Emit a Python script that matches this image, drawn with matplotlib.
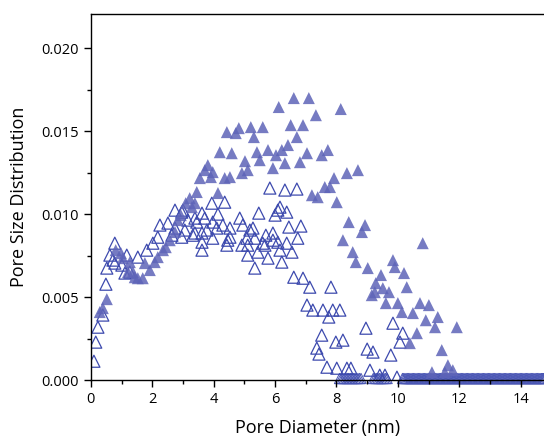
import numpy as np
import matplotlib
matplotlib.use("Agg")
import matplotlib.pyplot as plt
from matplotlib.ticker import MultipleLocator, FormatStrFormatter

plt.rcParams['font.family'] = ['Open Sans', 'DejaVu Sans']

# filled triangles: pore diameter (nm), PSD (x 1e-3)
d_fill = [0.29, 0.39, 0.52, 0.81, 0.98, 1.04, 1.27, 1.21, 1.37, 1.43, 1.53, 1.69, 1.76,
          1.92, 2.08, 2.18, 2.35, 2.44, 2.57, 2.74, 2.83, 2.93, 3.09, 3.22, 3.29, 3.39,
          3.45, 3.55, 3.71, 3.81, 3.91, 3.97, 4.14, 4.20, 4.36, 4.43, 4.53, 4.59, 4.72,
          4.82, 4.92, 5.02, 5.11, 5.21, 5.31, 5.41, 5.50, 5.60, 5.77, 5.93, 6.03, 6.12,
          6.22, 6.32, 6.42, 6.51, 6.61, 6.71, 6.81, 6.91, 7.04, 7.10, 7.33, 7.52, 7.72,
          7.92, 8.14, 8.34, 8.70, 7.62, 7.79, 7.20, 7.39, 8.01, 8.40, 8.93, 8.83, 8.21,
          10.81, 8.53, 8.63, 9.02, 9.28, 9.45, 9.25, 9.15, 9.51, 9.71, 9.84, 9.90, 10.20,
          10.29, 9.61, 10.00, 10.13, 10.72, 11.01, 10.49, 11.30, 10.91, 11.21, 11.92,
          10.62, 10.39, 11.43, 11.63, 11.79, 11.53, 11.11]
psd_fill = [4.10, 4.34, 4.88, 7.83, 7.65, 7.35, 7.11, 6.51, 6.51, 6.20, 6.14, 6.14, 7.05,
            6.63, 7.11, 7.41, 7.83, 8.01, 8.43, 8.92, 9.64, 9.94, 10.66, 10.96, 10.42, 10.66,
            11.33, 12.17, 12.65, 12.95, 12.23, 12.53, 11.27, 13.73, 12.17, 14.94, 12.23, 13.67, 14.88,
            15.18, 12.47, 13.19, 12.65, 15.24, 14.64, 13.73, 13.25, 15.24, 13.86, 12.77, 13.55, 16.45,
            13.86, 13.07, 14.16, 15.36, 16.99, 14.64, 13.13, 15.36, 13.67, 16.99, 15.96, 13.55, 13.86,
            12.17, 16.33, 12.47, 12.65, 11.63, 11.63, 11.14, 11.02, 10.72, 9.52, 9.34, 8.92, 8.43,
            8.25, 7.71, 7.11, 6.75, 5.84, 6.33, 5.30, 5.12, 5.54, 5.30, 7.23, 6.81, 6.45,
            5.60, 4.64, 4.64, 4.10, 4.64, 4.52, 4.04, 3.80, 3.61, 3.19, 3.19,
            2.83, 2.23, 1.81, 0.90, 0.60, 0.48, 0.48]

# open triangles
d_open = [0.10, 0.16, 0.23, 0.39, 0.49, 0.52, 0.62, 0.72, 0.78, 0.78, 1.01, 1.11, 1.17,
          1.27, 1.53, 1.82, 2.02, 2.18, 2.25, 2.51, 2.64, 2.74, 2.74, 2.96, 2.96, 3.00,
          3.06, 3.16, 3.32, 3.39, 3.39, 3.45, 3.62, 3.62, 3.62, 3.62, 3.71, 3.78, 3.94,
          3.97, 3.97, 4.10, 4.14, 4.30, 4.36, 4.43, 4.46, 4.53, 4.53, 4.85, 4.95, 5.08,
          4.92, 5.11, 5.11, 5.18, 5.28, 5.34, 5.34, 5.44, 5.47, 5.60, 5.67, 5.70, 5.77,
          5.83, 5.93, 5.93, 6.00, 6.09, 6.09, 6.16, 6.16, 6.22, 6.32, 6.38, 6.38, 6.45,
          6.55, 6.61, 6.71, 6.74, 6.84, 6.91, 7.04, 7.13, 7.23, 7.36, 7.43, 7.52, 7.56,
          7.69, 7.75, 7.82, 7.88, 7.98, 8.01, 8.11, 8.21, 8.34, 8.47, 8.96, 9.00, 9.09,
          9.19, 9.41, 9.58, 9.77, 9.84, 9.97, 10.07, 10.16]
psd_open = [1.14, 2.29, 3.19, 3.92, 5.78, 6.75, 7.53, 7.23, 8.25, 7.05, 6.93, 6.45, 7.53,
            6.51, 7.41, 7.83, 8.25, 8.61, 9.34, 9.46, 8.73, 9.16, 10.24, 8.61, 10.12, 10.24,
            9.04, 9.64, 8.73, 9.76, 8.86, 9.52, 10.06, 8.86, 8.31, 7.83, 9.76, 9.04, 10.66,
            9.52, 8.55, 9.16, 10.00, 9.34, 10.72, 8.13, 8.43, 9.16, 8.61, 9.76, 9.34, 8.55,
            8.13, 8.13, 7.53, 9.04, 9.16, 8.55, 6.75, 7.71, 10.06, 8.25, 8.13, 8.73, 7.35,
            11.57, 8.86, 8.43, 9.94, 10.24, 8.31, 10.42, 7.83, 7.11, 11.45, 10.12, 8.25, 9.22,
            7.71, 6.20, 11.51, 8.55, 9.28, 6.14, 4.52, 5.60, 4.22, 1.93, 1.57, 2.71, 4.22,
            0.78, 3.80, 5.60, 4.22, 2.29, 0.72, 4.22, 2.41, 0.72, 0.72, 3.13, 1.87, 0.60,
            1.69, 0.30, 0.30, 1.51, 3.43, 0.18, 2.29, 2.83]

# zero-valued tail: grid segments (start, stop, step) in nm
zero_segments = [(8.1, 8.8, 0.05), (9.2, 9.7, 0.05), (10.15, 14.8, 0.04)]
d_zero = np.concatenate([np.arange(a, b, s) for a, b, s in zero_segments])

fig = plt.figure(figsize=(5.44, 4.4), dpi=100)
ax = fig.add_axes([0.167, 0.136, 0.833, 0.832])

ax.scatter(d_zero, np.full(len(d_zero), 0.0001), marker='^', s=55,
           facecolors='none', edgecolors='#4a56b4', linewidths=0.7, clip_on=False)
ax.scatter(d_open, np.array(psd_open) / 1000, marker='^', s=75,
           facecolors='none', edgecolors='#3d4aae', linewidths=0.9)
ax.scatter(d_fill, np.array(psd_fill) / 1000, marker='^', s=75,
           color='#5e64b8', alpha=0.85, edgecolors='none')

ax.set_xlim(0, 14.76)
ax.set_ylim(0, 0.02205)
ax.xaxis.set_major_locator(MultipleLocator(2))
ax.xaxis.set_minor_locator(MultipleLocator(1))
ax.yaxis.set_major_locator(MultipleLocator(0.005))
ax.yaxis.set_minor_locator(MultipleLocator(0.0025))
ax.yaxis.set_major_formatter(FormatStrFormatter('%.3f'))
ax.tick_params(which='major', direction='out', length=5, width=1, labelsize=10.5)
ax.tick_params(which='minor', direction='out', length=3, width=1)
ax.spines['right'].set_visible(False)
for s in ['left', 'bottom', 'top']:
    ax.spines[s].set_linewidth(1)

ax.set_xlabel("Pore Diameter (nm)", fontsize=13, labelpad=9)
ax.set_ylabel("Pore Size Distribution", fontsize=13, labelpad=10)

plt.savefig("out.png", dpi=100)
